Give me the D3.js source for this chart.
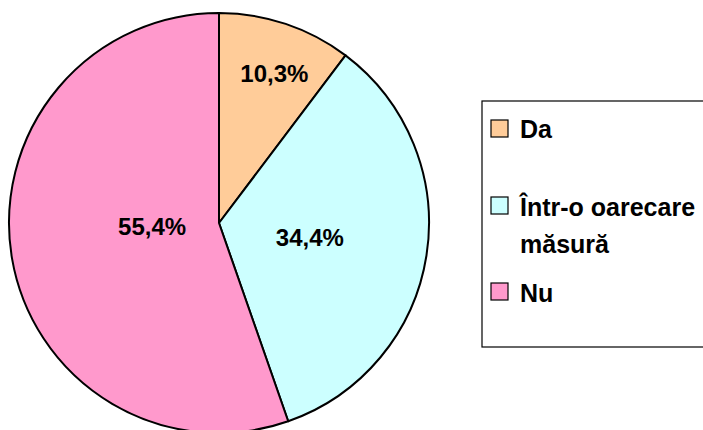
<!DOCTYPE html>
<html><head><meta charset="utf-8">
<script src="https://cdn.jsdelivr.net/npm/d3@7"></script>
<style>body{margin:0;background:#fff}svg{display:block}</style>
</head><body>
<svg id="c" width="703" height="430"></svg>
<script>
const categories = ["Da", "Într-o oarecare măsură", "Nu"];
const values = [10.3, 34.4, 55.4];
const labels = ["10,3%", "34,4%", "55,4%"];
const colors = ["#FFCC99", "#CCFFFF", "#FF99CC"];
const legendLines = [["Da"], ["Într-o oarecare", "măsură"], ["Nu"]];

const svg = d3.select("#c");
const font = "'Liberation Sans', Arial, sans-serif";
const cx = 219, cy = 223, R = 210;
const labelR = [160, 92, 67];
const labelRot = [0.03, 0, 0.12];

const pie = d3.pie().sort(null).value(d => d).startAngle(0).endAngle(2 * Math.PI);
const arcs = pie(values);
const arc = d3.arc().innerRadius(0).outerRadius(R);

const g = svg.append("g").attr("transform", `translate(${cx},${cy})`);
g.selectAll("path").data(arcs).join("path")
  .attr("d", arc)
  .attr("fill", (d, i) => colors[i])
  .attr("stroke", "#000")
  .attr("stroke-width", 2)
  .attr("stroke-linejoin", "round");

g.selectAll("text").data(arcs).join("text")
  .attr("transform", (d, i) => {
    const a = (d.startAngle + d.endAngle) / 2 + labelRot[i];
    return `translate(${labelR[i] * Math.sin(a)},${-labelR[i] * Math.cos(a)})`;
  })
  .attr("text-anchor", "middle")
  .attr("dy", "0.36em")
  .attr("font-family", font)
  .attr("font-weight", "bold")
  .attr("font-size", 24)
  .text((d, i) => labels[i]);

// Legend
const lg = svg.append("g");
lg.append("rect").attr("x", 482).attr("y", 101).attr("width", 240).attr("height", 246)
  .attr("fill", "#fff").attr("stroke", "#000").attr("stroke-width", 1.2);

const squareY = [120, 197, 283];
const textY = [[138], [216, 253], [302]];
categories.forEach((c, i) => {
  lg.append("rect").attr("x", 491).attr("y", squareY[i]).attr("width", 17).attr("height", 17)
    .attr("fill", colors[i]).attr("stroke", "#000").attr("stroke-width", 1.2);
  legendLines[i].forEach((line, j) => {
    lg.append("text").attr("x", 520).attr("y", textY[i][j])
      .attr("font-family", font).attr("font-weight", "bold").attr("font-size", 25)
      .attr("fill", "#000").text(line);
  });
});
</script>
</body></html>
